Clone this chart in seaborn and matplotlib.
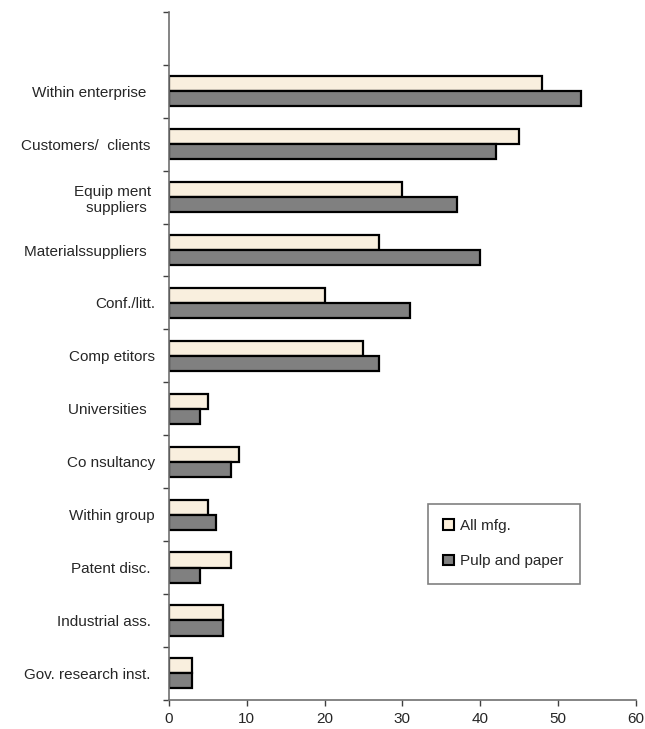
import matplotlib
matplotlib.use('Agg')
from matplotlib import pyplot as plt
import seaborn as sns
import pandas as pd
import numpy as np

categories = ['Within enterprise  ', 'Customers/  clients ', 'Equip ment \nsuppliers  ',
              'Materialssuppliers  ', 'Conf./litt.', 'Comp etitors', 'Universities  ',
              'Co nsultancy', 'Within group', 'Patent disc. ', 'Industrial ass. ',
              'Gov. research inst. ']
all_mfg = [48, 45, 30, 27, 20, 25, 5, 9, 5, 8, 7, 3]
pulp_paper = [53, 42, 37, 40, 31, 27, 4, 8, 6, 4, 7, 3]
series_names = ['All mfg.', 'Pulp and paper']
colors = ['#FDF0DA', '#808080']

df = pd.DataFrame({
    'source': categories * 2,
    'share': all_mfg + pulp_paper,
    'series': [series_names[0]] * len(categories) + [series_names[1]] * len(categories),
})

sns.set_style('white')
plt.rcParams['font.family'] = ['Liberation Sans', 'DejaVu Sans']

fig = plt.figure(figsize=(6.45, 7.29), dpi=100)
ax = fig.add_axes([0.262, 0.040, 0.7236, 0.9437])

sns.barplot(data=df, y='source', x='share', hue='series', orient='h',
            palette=dict(zip(series_names, colors)), width=0.57,
            edgecolor='black', linewidth=1.6, ax=ax, legend=False)

ax.set_xlim(0, 60)
ax.set_ylim(len(categories) - 0.5, -1.5)
ax.set_xticks(np.arange(0, 61, 10))
ax.set_yticks(np.arange(-1.5, len(categories), 1), minor=True)
ax.set_yticks(np.arange(len(categories)))
ax.set_yticklabels(categories, fontsize=11, ha='right', multialignment='right')
ax.tick_params(axis='y', which='major', length=0, pad=10)
ax.tick_params(axis='y', which='minor', length=4, width=1, color='#404040', left=True)
ax.tick_params(axis='x', length=4, width=1, color='#404040', bottom=True, labelsize=11, pad=5)
ax.set_xlabel('')
ax.set_ylabel('')

for s in ['top', 'right']:
    ax.spines[s].set_visible(False)
for s in ['left', 'bottom']:
    ax.spines[s].set_color('#707070')
    ax.spines[s].set_linewidth(1.2)

handles = [plt.Rectangle((0, 0), 1, 1, facecolor=c, edgecolor='black', linewidth=1.5) for c in colors]
leg = ax.legend(handles, series_names, loc='upper left', bbox_to_anchor=(0.555, 0.165, 0.326, 0.12),
                mode='expand', borderaxespad=0, fontsize=11, frameon=True, fancybox=False,
                handlelength=0.7, handleheight=0.7, handletextpad=0.4, labelspacing=1.4,
                borderpad=1.0)
leg.get_frame().set_edgecolor('#606060')
leg.get_frame().set_linewidth(1.2)

fig.savefig('out.png', dpi=100)
